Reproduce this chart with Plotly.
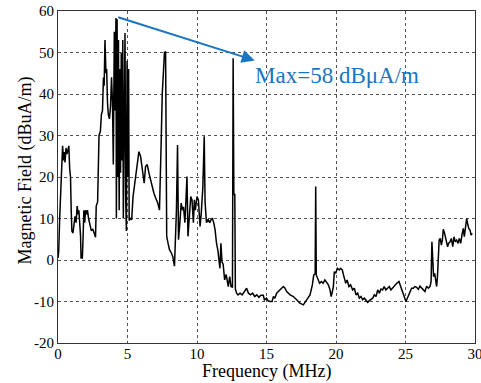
import plotly.graph_objects as go

# Frequency (MHz) and magnetic field (dBuA/m)
freq_mhz = [
    0.00, 0.05, 0.12, 0.20, 0.27, 0.33, 0.40, 0.45, 0.50, 0.58, 0.65, 0.72, 0.78, 0.84, 0.90, 0.95,
    1.00, 1.08, 1.15, 1.22, 1.30, 1.38, 1.45, 1.50, 1.56, 1.62, 1.66, 1.75, 1.80, 1.86, 1.92, 1.98,
    2.05, 2.12, 2.20, 2.30, 2.40, 2.50, 2.60, 2.70, 2.75, 2.85, 2.90, 2.95, 3.05, 3.12, 3.20, 3.27,
    3.32, 3.38, 3.45, 3.50, 3.56, 3.62, 3.70, 3.78, 3.85, 3.92, 3.98, 4.05, 4.10, 4.17, 4.20, 4.25,
    4.30, 4.35, 4.40, 4.45, 4.50, 4.55, 4.60, 4.66, 4.70, 4.76, 4.82, 4.87, 4.92, 4.97, 5.02, 5.08,
    5.12, 5.20, 5.30, 5.40, 5.52, 5.68, 5.82, 5.94, 6.06, 6.20, 6.30, 6.42, 6.54, 6.66, 6.78, 6.90,
    7.02, 7.18, 7.30, 7.36, 7.42, 7.50, 7.58, 7.66, 7.74, 7.82, 7.92, 8.02, 8.14, 8.26, 8.38, 8.45,
    8.52, 8.60, 8.67, 8.77, 8.86, 8.96, 9.03, 9.13, 9.20, 9.28, 9.35, 9.45, 9.55, 9.64, 9.74, 9.81,
    9.88, 10.00, 10.10, 10.22, 10.30, 10.42, 10.52, 10.58, 10.68, 10.80, 10.92, 11.00, 11.10, 11.20,
    11.30, 11.40, 11.50, 11.58, 11.65, 11.72, 11.80, 11.88, 11.99, 12.10, 12.25, 12.35, 12.45, 12.55,
    12.60, 12.65, 12.72, 12.76, 12.85, 12.95, 13.10, 13.25, 13.40, 13.57, 13.70, 13.85, 14.00, 14.15,
    14.30, 14.45, 14.60, 14.77, 14.85, 15.00, 15.10, 15.25, 15.40, 15.50, 15.60, 15.73, 15.85, 16.00,
    16.21, 16.33, 16.45, 16.70, 16.93, 17.17, 17.40, 17.65, 17.90, 18.13, 18.30, 18.40, 18.50, 18.54,
    18.58, 18.70, 18.82, 18.95, 19.07, 19.20, 19.33, 19.45, 19.57, 19.65, 19.74, 19.81, 19.88, 19.98,
    20.10, 20.24, 20.33, 20.45, 20.57, 20.70, 20.80, 20.93, 21.05, 21.20, 21.32, 21.44, 21.56, 21.68,
    21.80, 21.92, 22.04, 22.16, 22.28, 22.40, 22.52, 22.64, 22.76, 22.88, 23.00, 23.12, 23.23, 23.35,
    23.47, 23.59, 23.71, 23.83, 23.95, 24.13, 24.37, 24.53, 24.65, 24.72, 24.84, 24.96, 25.03, 25.13,
    25.22, 25.32, 25.44, 25.56, 25.68, 25.80, 25.92, 26.04, 26.16, 26.28, 26.40, 26.52, 26.64, 26.76,
    26.84, 26.90, 26.95, 27.02, 27.10, 27.17, 27.24, 27.30, 27.37, 27.42, 27.50, 27.58, 27.65, 27.72,
    27.80, 27.88, 27.97, 28.03, 28.10, 28.20, 28.30, 28.40, 28.49, 28.58, 28.68, 28.78, 28.87, 28.97,
    29.06, 29.16, 29.23, 29.30, 29.40, 29.47, 29.55, 29.64, 29.72, 29.80,
]
field_dbua = [
    0.5, 2, 10, 18, 25, 27.5, 24, 26, 23.5, 27, 25.5, 26.5, 27.5, 22, 20, 12,
    7, 6.5, 8, 10.5, 9, 13, 11, 12, 9, 6, 0.5, 0.5, 5, 12, 9, 12,
    11, 12, 10, 8, 7, 7.5, 6.5, 5.5, 13, 14, 22, 30, 31, 35, 36, 44,
    42, 53, 45, 46, 38, 35, 34, 37, 44, 38, 23, 55, 36, 58.3, 10, 58,
    20, 53, 12, 46, 21, 50, 24, 53, 10, 46, 54.7, 15, 7, 48, 20, 46,
    9.5, 10, 9.7, 15.3, 18.5, 22.5, 26.1, 25, 22.5, 18.5, 22.5, 23, 21, 19.3, 17.5, 16.1,
    15, 13.7, 12, 18.5, 28, 40, 45, 50, 50.2, 5.7, 4, 2.5, 1.8, 0.8, -1.5, 4,
    12, 27.7, 4.9, 9, 13.7, 12, 12.8, 9, 15.3, 20.1, 5.7, 10, 15.3, 14.5, 9, 14.5,
    12, 15.3, 14.5, 8.1, 11, 17.5, 29.8, 14, 9, 9.8, 9, 9.6, 10.1, 9,
    7.3, 4.1, 2.4, 0, -2, 4, -0.5, -1, -4.8, -3.5, -6.4, -4, -6.4, -6.5,
    48.6, 15.8, 15.8, -7, -8, -8.4, -8, -8.4, -7.5, -6.8, -8, -8.4, -8, -8.8,
    -8.4, -9, -8.5, -8.5, -9.6, -9.2, -9.8, -10, -10, -8.8, -9.2, -8, -7.6, -7,
    -6.4, -6.8, -7.6, -8.4, -8.8, -9.6, -10.4, -10.8, -9.6, -8.4, -6, -3.6, -3.3, 17.7,
    -3.6, -4.8, -5.6, -5.2, -5.6, -4.8, -5.6, -6, -7.2, -8.8, -7.6, -6.4, -2.8, -3.2,
    -2, -2.4, -2, -2.4, -4, -5.6, -4.8, -6.4, -6, -7.2, -6.8, -8.4, -8, -9.2,
    -8.8, -9.6, -9.2, -9.8, -10.2, -9.8, -9.6, -9.2, -8.4, -8.8, -7.2, -8, -7, -7.2,
    -6.4, -7.2, -6.8, -6.4, -7.2, -6.4, -5.6, -5.2, -6.4, -6.8, -8, -9.2, -10, -9.2,
    -8.4, -7.6, -6.8, -6.8, -6.4, -6.6, -7.1, -6.3, -6.8, -7.2, -7.6, -6.3, -6.8, -6.4,
    -5.2, 4.4, -1.6, -4, -3.2, -4.8, -6.4, -4, 0, 4.8, 5.2, 3.6, 4.8, 7.4,
    6.6, 5.4, 4.8, 3.2, 4, 4.4, 5.2, 3.2, 5.6, 4.4, 4.8, 4, 5.2, 4,
    6, 7.6, 5.6, 8, 10, 8.8, 7.6, 7.2, 6, 6.4,
]

x_ticks = [0, 5, 10, 15, 20, 25, 30]
y_ticks = [-20, -10, 0, 10, 20, 30, 40, 50, 60]
y_tick_text = ["-20", "-10", "0", "10", "20", "30", "40", "50", "60"]

peak_point = (4.22, 58.6)
arrow_end = (14.15, 48.1)
max_label = "Max=58 dBμA/m"

SERIF = "Liberation Serif, Times New Roman, serif"
BLUE = "#1a75c2"

fig = go.Figure()
fig.add_trace(go.Scatter(
    x=freq_mhz, y=field_dbua, mode="lines",
    line=dict(color="black", width=1.5), showlegend=False,
))

axis_common = dict(
    showline=True, linecolor="#333333", linewidth=1, mirror=True,
    showgrid=True, gridcolor="#555555", griddash="dot", gridwidth=1,
    zeroline=False, ticks="", ticklabeloverflow="allow", automargin=False,
    tickfont=dict(family=SERIF, size=15, color="black"),
)
fig.update_xaxes(range=[0, 30], tickvals=x_ticks, ticklabelstandoff=-3, **axis_common)
fig.update_yaxes(range=[-20, 60], tickvals=y_ticks, ticktext=y_tick_text, **axis_common)

fig.add_annotation(
    x=arrow_end[0], y=arrow_end[1], ax=peak_point[0], ay=peak_point[1],
    xref="x", yref="y", axref="x", ayref="y", text="", showarrow=True,
    arrowhead=2, arrowsize=1.3, arrowwidth=2, arrowcolor=BLUE,
)
fig.add_annotation(
    x=14.05, y=44.4, xref="x", yref="y", text=max_label, showarrow=False,
    xanchor="left", yanchor="middle", font=dict(family=SERIF, size=23, color=BLUE),
)
fig.add_annotation(
    x=0.5, y=-0.1195, xref="paper", yref="paper", text="Frequency (MHz)", showarrow=False,
    xanchor="center", yanchor="bottom", borderpad=0,
    font=dict(family=SERIF, size=18, color="black"),
)
fig.add_annotation(
    x=-0.079, y=0.52, xref="paper", yref="paper", text="Magnetic Field (dBuA/m)",
    showarrow=False, textangle=-90, xanchor="center", yanchor="middle",
    font=dict(family=SERIF, size=18, color="black"),
)

fig.update_layout(
    width=481, height=383,
    margin=dict(l=58, r=6, t=11, b=40),
    paper_bgcolor="white", plot_bgcolor="white",
)
fig.write_html("out.html")
